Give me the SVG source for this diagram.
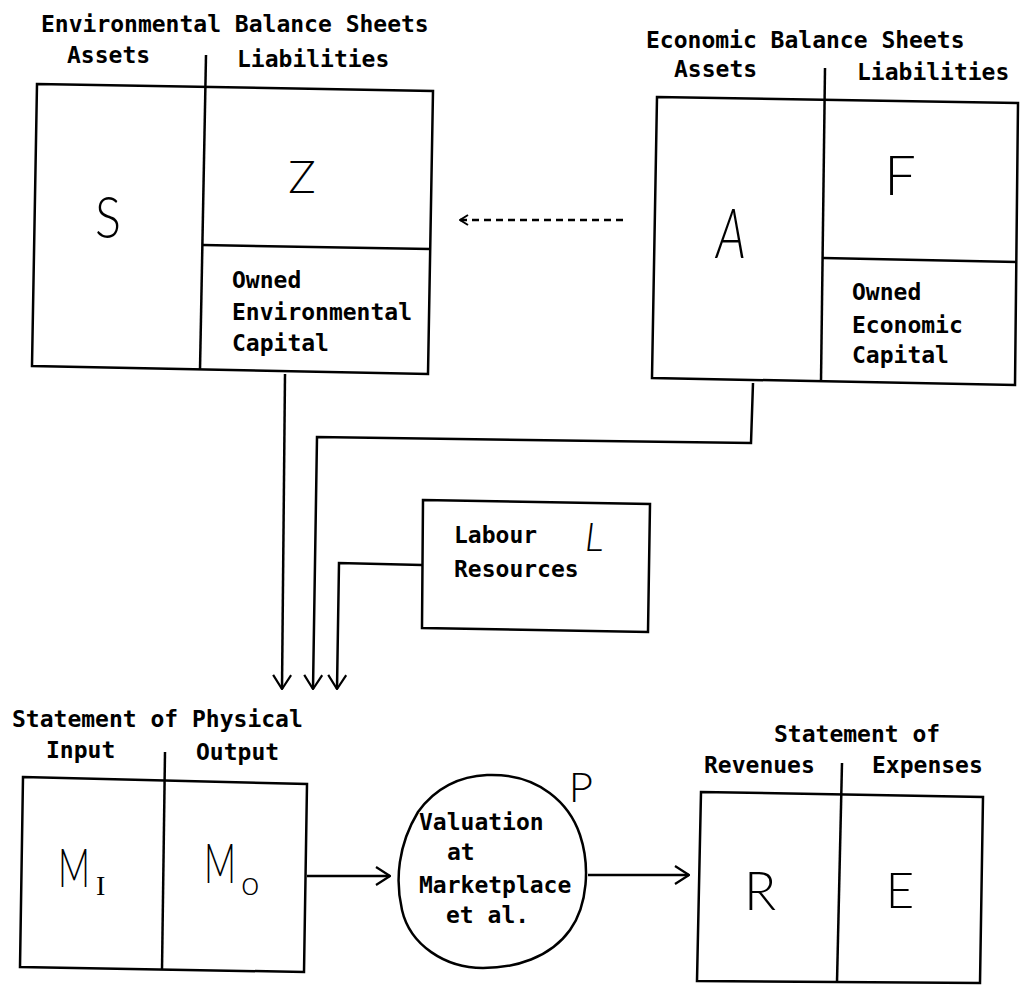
<svg xmlns="http://www.w3.org/2000/svg" width="1021" height="985" viewBox="0 0 1021 985">
<style>
.t{font-family:"DejaVu Sans Mono","Liberation Mono",monospace;font-size:23px;font-weight:bold;fill:#000}
.h{font-family:Lato,"Liberation Sans",sans-serif;font-weight:300;fill:#000;text-anchor:middle}
.ln{fill:none;stroke:#000;stroke-width:2.5;stroke-linejoin:miter}
.bx{fill:#fff;stroke:#000;stroke-width:2.5}
</style>
<defs>
<marker id="ah" viewBox="0 0 16 20" refX="15" refY="10" markerWidth="16" markerHeight="20" markerUnits="userSpaceOnUse" orient="auto">
<path d="M1,1 L15,10 L1,19" fill="none" stroke="#000" stroke-width="2.2"/>
</marker>
<marker id="ahs" viewBox="0 0 10 12" refX="9" refY="6" markerWidth="10" markerHeight="12" markerUnits="userSpaceOnUse" orient="auto">
<path d="M1,1 L9,6 L1,11" fill="none" stroke="#000" stroke-width="2"/>
</marker>
</defs>
<rect width="1021" height="985" fill="#fff"/>

<g id="connectors">
<path class="ln" d="M285,374 L282,689" marker-end="url(#ah)"/>
<path class="ln" d="M753,383 L751,443 L317,437 L313,689" marker-end="url(#ah)"/>
<path class="ln" d="M422,565 L339,563 L337,689" marker-end="url(#ah)"/>
<path class="ln" d="M307,876 L390,876" marker-end="url(#ah)"/>
<path class="ln" d="M588,875 L689,875" marker-end="url(#ah)"/>
<path class="ln" d="M623,220 L460,220" stroke-dasharray="7,5" marker-end="url(#ahs)"/>
</g>

<g id="env-balance">
<text class="t" x="41" y="32">Environmental Balance Sheets</text>
<text class="t" x="67" y="63">Assets</text>
<text class="t" x="237" y="67">Liabilities</text>
<path class="bx" d="M37,84 L433,91 L428,374 L32,366 Z"/>
<path class="ln" d="M206,55 L200,370"/>
<path class="ln" d="M203,245 L430,249"/>
<text class="h" x="108" y="238" font-size="57" textLength="26" lengthAdjust="spacingAndGlyphs">S</text>
<text class="h" x="302" y="193" font-size="46">Z</text>
<text class="t" x="232" y="288">Owned</text>
<text class="t" x="232" y="320">Environmental</text>
<text class="t" x="232" y="351">Capital</text>
</g>

<g id="econ-balance">
<text class="t" x="646" y="48">Economic Balance Sheets</text>
<text class="t" x="674" y="77">Assets</text>
<text class="t" x="857" y="80">Liabilities</text>
<path class="bx" d="M657,97 L1018,103 L1015,385 L652,378 Z"/>
<path class="ln" d="M825,68 L821,382"/>
<path class="ln" d="M823,258 L1017,262"/>
<text class="h" x="731" y="258" font-size="70" font-style="italic" textLength="30" lengthAdjust="spacingAndGlyphs">A</text>
<text class="h" x="900" y="195" font-size="56">F</text>
<text class="t" x="852" y="300">Owned</text>
<text class="t" x="852" y="333">Economic</text>
<text class="t" x="852" y="363">Capital</text>
</g>

<g id="labour">
<path class="bx" d="M423,500 L650,504 L648,632 L422,628 Z"/>
<text class="t" x="454" y="543">Labour</text>
<text class="t" x="454" y="577">Resources</text>
<text class="h" x="594" y="551" font-size="40" font-style="italic">L</text>
</g>

<g id="physical">
<text class="t" x="12" y="727">Statement of Physical</text>
<text class="t" x="46" y="758">Input</text>
<text class="t" x="196" y="760">Output</text>
<path class="bx" d="M23,777 L307,784 L304,972 L20,967 Z"/>
<path class="ln" d="M165,752 L162,970"/>
<text class="h" style="text-anchor:start" x="58" y="887"><tspan font-size="54" textLength="32" lengthAdjust="spacingAndGlyphs">M</tspan><tspan x="96" y="895" font-family="'Liberation Serif',serif" font-weight="normal" font-size="28">I</tspan></text>
<text class="h" style="text-anchor:start" x="204" y="883"><tspan font-size="56" textLength="32" lengthAdjust="spacingAndGlyphs">M</tspan><tspan x="241" y="895" font-size="33">o</tspan></text>
</g>

<g id="valuation">
<path class="bx" d="M487,775 C540,773 570,805 580,835 C590,865 588,905 570,930 C550,958 515,968 483,968 C445,968 410,945 402,910 C395,880 398,845 418,812 C435,788 460,776 487,775 Z"/>
<text class="t" x="419" y="830">Valuation</text>
<text class="t" x="447" y="860">at</text>
<text class="t" x="419" y="893">Marketplace</text>
<text class="t" x="446" y="923">et al.</text>
<text class="h" x="581" y="802" font-size="42">P</text>
</g>

<g id="revenue">
<text class="t" x="774" y="742">Statement of</text>
<text class="t" x="704" y="773">Revenues</text>
<text class="t" x="872" y="773">Expenses</text>
<path class="bx" d="M701,792 L983,797 L980,983 L697,981 Z"/>
<path class="ln" d="M842,763 L837,982"/>
<text class="h" x="760" y="910" font-size="53">R</text>
<text class="h" x="900" y="908" font-size="49">E</text>
</g>
</svg>
